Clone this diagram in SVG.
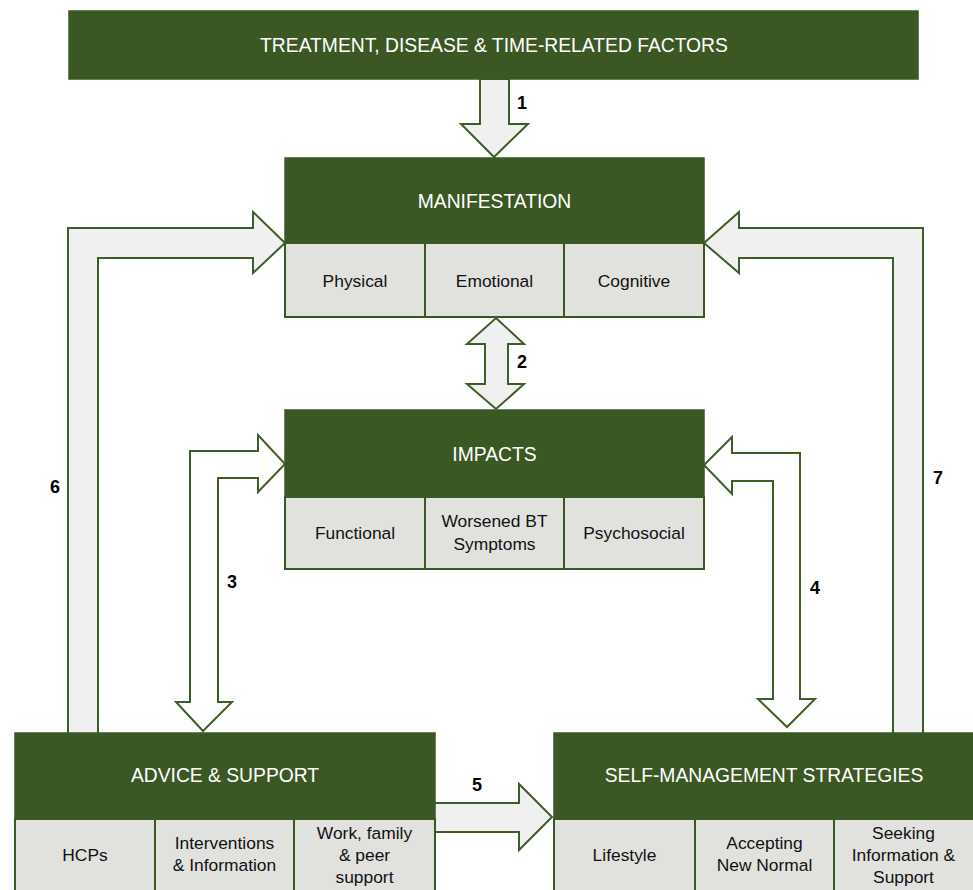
<svg xmlns="http://www.w3.org/2000/svg" width="973" height="890" viewBox="0 0 973 890">
<style>
.hdr{fill:#3b5824;stroke:#3b5824;stroke-width:1.5}
.cell{fill:#e1e2de;stroke:#3b5824;stroke-width:2}
.ht{font-family:"Liberation Sans",Arial,sans-serif;font-size:19.3px;fill:#ffffff;text-anchor:middle}
.ct{font-family:"Liberation Sans",Arial,sans-serif;font-size:17.4px;fill:#111111;text-anchor:middle}
.num{font-family:"Liberation Sans",Arial,sans-serif;font-size:18px;font-weight:bold;fill:#000000;text-anchor:middle}
.ag{fill:#f0f0f0;stroke:#3d5f27;stroke-width:2;stroke-linejoin:miter}
.aw{fill:#ffffff;stroke:#3d5f27;stroke-width:2;stroke-linejoin:miter}
</style>
<rect width="973" height="890" fill="#ffffff"/>
<g id="connectors">
  <polygon class="ag" points="480,79 509,79 509,124 528,124 494,157 461,124 480,124"/>
  <polygon class="ag" points="496,318 524,344 508,344 508,384 524,384 496,409 467,384 485,384 485,344 467,344"/>
  <polygon class="aw" points="190,702 176,702 203,731 232,702 218,702 218,478 258,478 258,492 285,464 258,435 258,451 190,451"/>
  <polygon class="aw" points="704,465 732,437 732,453 800,453 800,699 815,699 787,727 758,699 773,699 773,481 732,481 732,494"/>
  <polygon class="ag" points="430,803 519,803 519,784 552,817 519,850 519,832 430,832"/>
  <polygon class="ag" points="68,740 68,228 253,228 253,212 285,243 253,273 253,258 98,258 98,740"/>
  <polygon class="ag" points="923,740 923,228 739,228 739,212 704,243 739,273 739,258 893,258 893,740"/>
  <text class="num" x="522" y="109">1</text>
  <text class="num" x="522" y="368">2</text>
  <text class="num" x="232" y="588">3</text>
  <text class="num" x="815" y="594">4</text>
  <text class="num" x="477" y="791">5</text>
  <text class="num" x="55" y="493">6</text>
  <text class="num" x="938" y="484">7</text>
</g>
<g id="factors">
  <rect class="hdr" x="69" y="11" width="849" height="68"/>
  <text class="ht" x="494" y="52">TREATMENT, DISEASE &amp; TIME-RELATED FACTORS</text>
</g>
<g id="manifestation">
  <rect class="hdr" x="285" y="158" width="419" height="85"/>
  <text class="ht" x="494.5" y="208">MANIFESTATION</text>
  <rect class="cell" x="285" y="243" width="140" height="74"/>
  <rect class="cell" x="425" y="243" width="139" height="74"/>
  <rect class="cell" x="564" y="243" width="140" height="74"/>
  <text class="ct" x="355" y="287">Physical</text>
  <text class="ct" x="494.5" y="287">Emotional</text>
  <text class="ct" x="634" y="287">Cognitive</text>
</g>
<g id="impacts">
  <rect class="hdr" x="285" y="410" width="419" height="87"/>
  <text class="ht" x="494.5" y="461">IMPACTS</text>
  <rect class="cell" x="285" y="497" width="140" height="72"/>
  <rect class="cell" x="425" y="497" width="139" height="72"/>
  <rect class="cell" x="564" y="497" width="140" height="72"/>
  <text class="ct" x="355" y="539">Functional</text>
  <text class="ct" x="494.5" y="527">Worsened BT</text>
  <text class="ct" x="494.5" y="550">Symptoms</text>
  <text class="ct" x="634" y="539">Psychosocial</text>
</g>
<g id="advice">
  <rect class="hdr" x="15" y="733" width="420" height="86"/>
  <text class="ht" x="225" y="782">ADVICE &amp; SUPPORT</text>
  <rect class="cell" x="15" y="819" width="140" height="80"/>
  <rect class="cell" x="155" y="819" width="139" height="80"/>
  <rect class="cell" x="294" y="819" width="141" height="80"/>
  <text class="ct" x="85" y="861">HCPs</text>
  <text class="ct" x="224.5" y="849">Interventions</text>
  <text class="ct" x="224.5" y="871">&amp; Information</text>
  <text class="ct" x="364.5" y="839">Work, family</text>
  <text class="ct" x="364.5" y="861">&amp; peer</text>
  <text class="ct" x="364.5" y="883">support</text>
</g>
<g id="selfmanagement">
  <rect class="hdr" x="554" y="733" width="425" height="86"/>
  <text class="ht" x="764" y="782">SELF-MANAGEMENT STRATEGIES</text>
  <rect class="cell" x="554" y="819" width="141" height="80"/>
  <rect class="cell" x="695" y="819" width="139" height="80"/>
  <rect class="cell" x="834" y="819" width="145" height="80"/>
  <text class="ct" x="624.5" y="861">Lifestyle</text>
  <text class="ct" x="764.5" y="849">Accepting</text>
  <text class="ct" x="764.5" y="871">New Normal</text>
  <text class="ct" x="903.5" y="839">Seeking</text>
  <text class="ct" x="903.5" y="861">Information &amp;</text>
  <text class="ct" x="903.5" y="883">Support</text>
</g>
</svg>
